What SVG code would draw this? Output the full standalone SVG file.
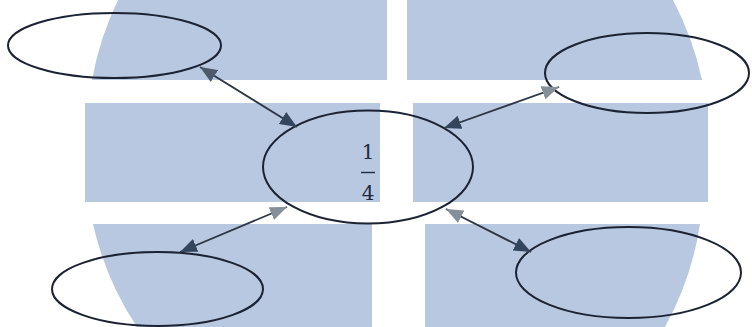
<svg xmlns="http://www.w3.org/2000/svg" width="752" height="327" viewBox="0 0 752 327">
<style>
.bg{fill:#b7c8e0}
.node{fill:none;stroke:#1b2233;stroke-width:2}
.conn{stroke:#2c3644;stroke-width:1.8;fill:none}
.num{font-family:"DejaVu Serif","Liberation Serif",serif;font-size:20px;fill:#1f2a40;text-anchor:middle}
</style>
<defs>
<marker id="hDark" markerUnits="userSpaceOnUse" markerWidth="19" markerHeight="15" refX="17" refY="7" orient="auto-start-reverse" viewBox="0 0 19 15">
<path d="M0,0 L17,7 L0,14 Z" fill="#34465e"/>
</marker>
<marker id="hMid" markerUnits="userSpaceOnUse" markerWidth="19" markerHeight="15" refX="17" refY="7" orient="auto-start-reverse" viewBox="0 0 19 15">
<path d="M0,0 L17,7 L0,14 Z" fill="#4d5a6b"/>
</marker>
<marker id="hGray" markerUnits="userSpaceOnUse" markerWidth="19" markerHeight="15" refX="17" refY="7" orient="auto-start-reverse" viewBox="0 0 19 15">
<path d="M0,0 L17,7 L0,14 Z" fill="#858f9a"/>
</marker>
</defs>
<rect width="752" height="327" fill="#ffffff"/>
<g id="background">
<path class="bg" d="M118,0 A311,311 0 0,0 92,80 L387,80 L387,0 Z"/>
<path class="bg" d="M407,0 L673,0 A311,311 0 0,1 702,80 L407,80 Z"/>
<rect class="bg" x="85" y="103" width="295" height="99"/>
<rect class="bg" x="413" y="103" width="295" height="99"/>
<path class="bg" d="M93,224 L372,224 L372,327 L137,327 A309,309 0 0,1 93,224 Z"/>
<path class="bg" d="M425,224 L700,224 A309,309 0 0,1 665,327 L425,327 Z"/>
</g>
<g id="node-top-left"><ellipse class="node" cx="114.5" cy="45.5" rx="106.5" ry="32.5"/></g>
<g id="node-top-right"><ellipse class="node" cx="647" cy="73" rx="102" ry="40"/></g>
<g id="node-center">
<ellipse class="node" cx="368" cy="167" rx="105" ry="56.5"/>
<text class="num" x="368" y="159">1</text>
<line x1="361" y1="172.5" x2="375" y2="172.5" stroke="#1f2a40" stroke-width="1.4"/>
<text class="num" x="368" y="200">4</text>
</g>
<g id="node-bottom-left"><ellipse class="node" cx="157.5" cy="289" rx="105.5" ry="37"/></g>
<g id="node-bottom-right"><ellipse class="node" cx="628.5" cy="272.5" rx="112.5" ry="45.5"/></g>
<g id="connectors">
<line class="conn" x1="200" y1="67" x2="297" y2="127" marker-start="url(#hMid)" marker-end="url(#hDark)"/>
<line class="conn" x1="559" y1="87" x2="444" y2="128" marker-start="url(#hGray)" marker-end="url(#hDark)"/>
<line class="conn" x1="287" y1="207" x2="180" y2="252" marker-start="url(#hGray)" marker-end="url(#hDark)"/>
<line class="conn" x1="446" y1="209" x2="531" y2="252" marker-start="url(#hGray)" marker-end="url(#hDark)"/>
</g>
</svg>
